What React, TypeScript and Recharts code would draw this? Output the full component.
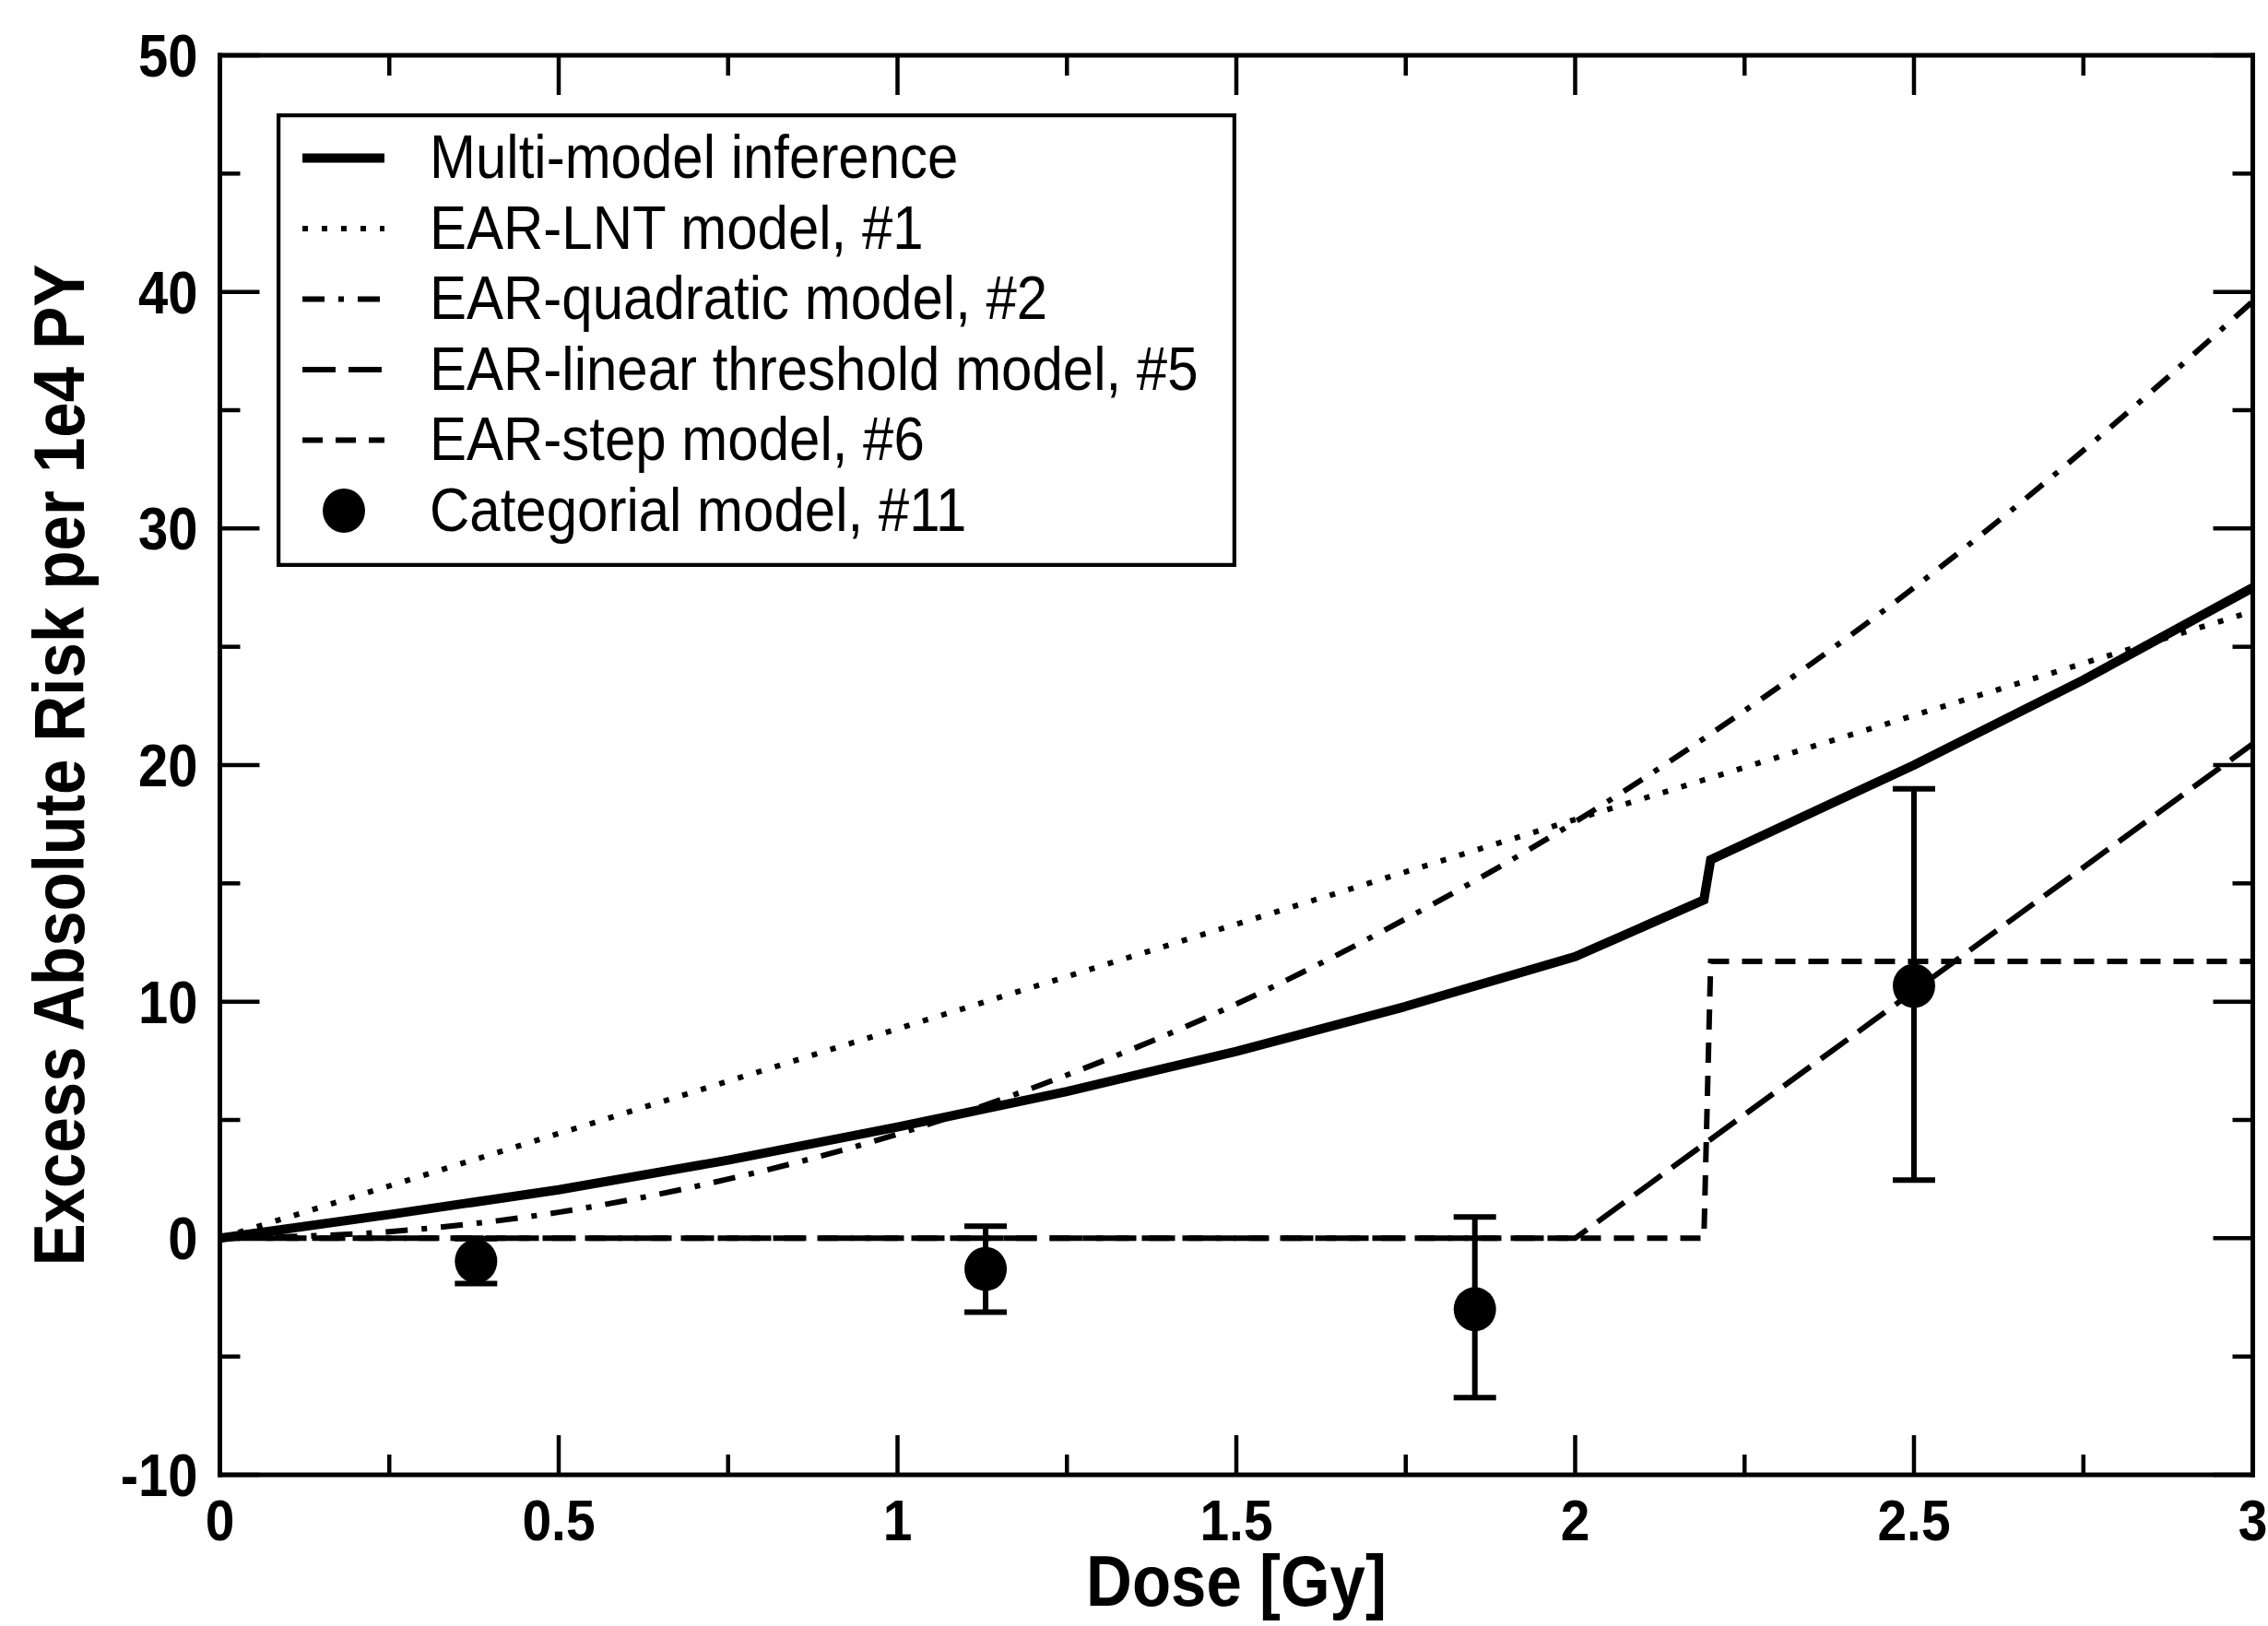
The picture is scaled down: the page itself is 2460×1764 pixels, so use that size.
import React from 'react';
import { ComposedChart, Line, Scatter, ErrorBar, XAxis, YAxis, Legend } from 'recharts';

// ---------- data ----------
const xTicks = [0, 0.25, 0.5, 0.75, 1, 1.25, 1.5, 1.75, 2, 2.25, 2.5, 2.75, 3];
const yTicks = [-10, -5, 0, 5, 10, 15, 20, 25, 30, 35, 40, 45, 50];

const multiModel = [
  { x: 0, y: 0 }, { x: 0.25, y: 1.0 }, { x: 0.5, y: 2.05 }, { x: 0.75, y: 3.3 },
  { x: 1, y: 4.7 }, { x: 1.25, y: 6.2 }, { x: 1.5, y: 7.9 }, { x: 1.75, y: 9.8 },
  { x: 2.0, y: 11.9 }, { x: 2.19, y: 14.3 }, { x: 2.2, y: 16.0 }, { x: 2.5, y: 20.0 },
  { x: 2.75, y: 23.6 }, { x: 3, y: 27.5 },
];
const lntModel = [
  { x: 0, y: 0 }, { x: 1, y: 8.85 }, { x: 2, y: 17.7 }, { x: 3, y: 26.5 },
];
const quadraticModel = [
  { x: 0, y: 0 }, { x: 0.25, y: 0.28 }, { x: 0.5, y: 1.1 }, { x: 0.75, y: 2.5 },
  { x: 1, y: 4.4 }, { x: 1.25, y: 6.9 }, { x: 1.5, y: 9.9 }, { x: 1.75, y: 13.5 },
  { x: 2, y: 17.6 }, { x: 2.25, y: 22.3 }, { x: 2.5, y: 27.5 }, { x: 2.75, y: 33.3 },
  { x: 3, y: 39.6 },
];
const thresholdModel = [
  { x: 0, y: 0 }, { x: 2.0, y: 0 }, { x: 3, y: 20.9 },
];
const stepModel = [
  { x: 0, y: 0 }, { x: 2.19, y: 0 }, { x: 2.2, y: 11.7 }, { x: 3, y: 11.7 },
];
const categorial = [
  { x: 0.378, y: -0.97, err: [0.95, 0.95] },
  { x: 1.13, y: -1.3, err: [1.82, 1.81] },
  { x: 1.852, y: -3.0, err: [3.74, 3.9] },
  { x: 2.5, y: 10.67, err: [8.21, 8.33] },
];

const DASH_LNT = '6 15';
const DASH_QUAD = '24 15 6 15';
const DASH_THR = '36 14';
const DASH_STEP = '22 14';

const legendItems = [
  { name: 'Multi-model inference', dash: '', width: 10, marker: false },
  { name: 'EAR-LNT model, #1', dash: DASH_LNT, width: 6, marker: false },
  { name: 'EAR-quadratic model, #2', dash: DASH_QUAD, width: 6, marker: false },
  { name: 'EAR-linear threshold model, #5', dash: DASH_THR, width: 6, marker: false },
  { name: 'EAR-step model, #6', dash: DASH_STEP, width: 6, marker: false },
  { name: 'Categorial model, #11', dash: '', width: 0, marker: true },
];

const FONT = '"Liberation Sans", Arial, Helvetica, sans-serif';
const STRETCH = 1.12;

const isMajorX = (v: number) => Math.abs(v * 2 - Math.round(v * 2)) < 1e-6;
const isMajorY = (v: number) => Math.abs(v / 10 - Math.round(v / 10)) < 1e-6;

const SText = (props: any) => {
  const { x, y, k = STRETCH, rotate = 0, children, ...rest } = props;
  return (
    <text
      x={0}
      y={0}
      transform={`translate(${x} ${y}) rotate(${rotate}) scale(1 ${k})`}
      fontFamily={FONT}
      fill="#000"
      {...rest}
    >
      {children}
    </text>
  );
};

const TICK_W = 4.5;

const BottomTick = (props: any) => {
  const { x, y, payload } = props;
  const v = payload.value;
  const major = isMajorX(v);
  return (
    <g>
      <line x1={x} x2={x} y1={y} y2={y - (major ? 43 : 22)} stroke="#000" strokeWidth={TICK_W} />
      {major && (
        <SText x={x} y={y + 71} textAnchor="middle" fontWeight="bold" fontSize={57}>
          {String(v)}
        </SText>
      )}
    </g>
  );
};

const TopTick = (props: any) => {
  const { x, y, payload } = props;
  const major = isMajorX(payload.value);
  return <line x1={x} x2={x} y1={y} y2={y + (major ? 43 : 22)} stroke="#000" strokeWidth={TICK_W} />;
};

const LeftTick = (props: any) => {
  const { x, y, payload } = props;
  const v = payload.value;
  const major = isMajorY(v);
  return (
    <g>
      <line x1={x} x2={x + (major ? 43 : 22)} y1={y} y2={y} stroke="#000" strokeWidth={TICK_W} />
      {major && (
        <SText x={x - 24} y={y + 23} textAnchor="end" fontWeight="bold" fontSize={58}>
          {String(v)}
        </SText>
      )}
    </g>
  );
};

const RightTick = (props: any) => {
  const { x, y, payload } = props;
  const major = isMajorY(payload.value);
  return <line x1={x} x2={x - (major ? 43 : 22)} y1={y} y2={y} stroke="#000" strokeWidth={TICK_W} />;
};

const XTitle = (props: any) => {
  const vb = props.viewBox || { x: 238.5, y: 1600, width: 2205, height: 100 };
  return (
    <SText x={vb.x + vb.width / 2} y={vb.y + 142} textAnchor="middle" fontWeight="bold" fontSize={69}>
      Dose [Gy]
    </SText>
  );
};

const YTitle = (props: any) => {
  const vb = props.viewBox || { x: 38.5, y: 60, width: 200, height: 1540 };
  const x = vb.x + 52;
  const cy = vb.y + vb.height / 2;
  return (
    <SText x={x} y={cy} rotate={-90} textAnchor="middle" fontWeight="bold" fontSize={69}>
      Excess Absolute Risk per 1e4 PY
    </SText>
  );
};

const Dot = (props: any) => {
  const { cx, cy } = props;
  if (cx == null || cy == null) return null;
  return <ellipse cx={cx} cy={cy} rx={23} ry={24} fill="#000" />;
};

const LegendBox = () => (
  <svg width={1041} height={492} style={{ display: 'block' }}>
    <rect x={2} y={2} width={1037} height={488} fill="#fff" stroke="#000" strokeWidth={4.5} />
    {legendItems.map((it, i) => {
      const cy = 48.5 + i * 76.5;
      return (
        <g key={it.name}>
          {it.marker ? (
            <ellipse cx={73} cy={cy} rx={23} ry={24} fill="#000" />
          ) : (
            <line x1={28} x2={117} y1={cy} y2={cy} stroke="#000" strokeWidth={it.width} strokeDasharray={it.dash || undefined} />
          )}
          <SText x={166} y={70 + i * 76.5} fontSize={60}>
            {it.name}
          </SText>
        </g>
      );
    })}
  </svg>
);

const axisLine = { stroke: '#000', strokeWidth: 5, strokeLinecap: 'square' as const };

export default function App() {
  return (
    <div style={{ position: 'absolute', left: 0, top: 0, width: 2460, height: 1764, background: '#fff' }}>
      <ComposedChart
        width={2460}
        height={1764}
        margin={{ top: 59, right: 15.5, bottom: 64, left: 38.5 }}
        style={{ fontFamily: FONT }}
      >
        <XAxis
          xAxisId="x"
          dataKey="x"
          type="number"
          domain={[0, 3]}
          ticks={xTicks}
          interval={0}
          allowDataOverflow
          height={100}
          tickSize={0}
          tickMargin={0}
          tickLine={false}
          axisLine={axisLine}
          tick={<BottomTick />}
          label={<XTitle />}
        />
        <XAxis
          xAxisId="xt"
          orientation="top"
          dataKey="x"
          type="number"
          domain={[0, 3]}
          ticks={xTicks}
          interval={0}
          allowDataOverflow
          height={1}
          tickSize={0}
          tickMargin={0}
          tickLine={false}
          axisLine={axisLine}
          tick={<TopTick />}
        />
        <YAxis
          yAxisId="y"
          type="number"
          domain={[-10, 50]}
          ticks={yTicks}
          interval={0}
          allowDataOverflow
          width={200}
          tickSize={0}
          tickMargin={0}
          tickLine={false}
          axisLine={axisLine}
          tick={<LeftTick />}
          label={<YTitle />}
        />
        <YAxis
          yAxisId="yr"
          orientation="right"
          type="number"
          domain={[-10, 50]}
          ticks={yTicks}
          interval={0}
          allowDataOverflow
          width={1}
          tickSize={0}
          tickMargin={0}
          tickLine={false}
          axisLine={axisLine}
          tick={<RightTick />}
        />
        <Line xAxisId="x" yAxisId="y" data={thresholdModel} dataKey="y" type="linear" stroke="#000" strokeWidth={6} strokeDasharray={DASH_THR} dot={false} activeDot={false} isAnimationActive={false} />
        <Line xAxisId="x" yAxisId="y" data={stepModel} dataKey="y" type="linear" stroke="#000" strokeWidth={6} strokeDasharray={DASH_STEP} dot={false} activeDot={false} isAnimationActive={false} />
        <Line xAxisId="x" yAxisId="y" data={lntModel} dataKey="y" type="linear" stroke="#000" strokeWidth={6} strokeDasharray={DASH_LNT} dot={false} activeDot={false} isAnimationActive={false} />
        <Line xAxisId="x" yAxisId="y" data={quadraticModel} dataKey="y" type="monotone" stroke="#000" strokeWidth={6} strokeDasharray={DASH_QUAD} dot={false} activeDot={false} isAnimationActive={false} />
        <Line xAxisId="x" yAxisId="y" data={multiModel} dataKey="y" type="linear" stroke="#000" strokeWidth={10} dot={false} activeDot={false} isAnimationActive={false} />
        <Scatter xAxisId="x" yAxisId="y" data={categorial} dataKey="y" fill="#000" shape={<Dot />} isAnimationActive={false}>
          <ErrorBar dataKey="err" direction="y" width={23} strokeWidth={6} stroke="#000" />
        </Scatter>
        <Legend
          layout="horizontal"
          verticalAlign="middle"
          align="center"
          content={() => <LegendBox />}
          wrapperStyle={{ position: 'absolute', left: 300, top: 123, width: 1041, height: 492 }}
        />
      </ComposedChart>
    </div>
  );
}
